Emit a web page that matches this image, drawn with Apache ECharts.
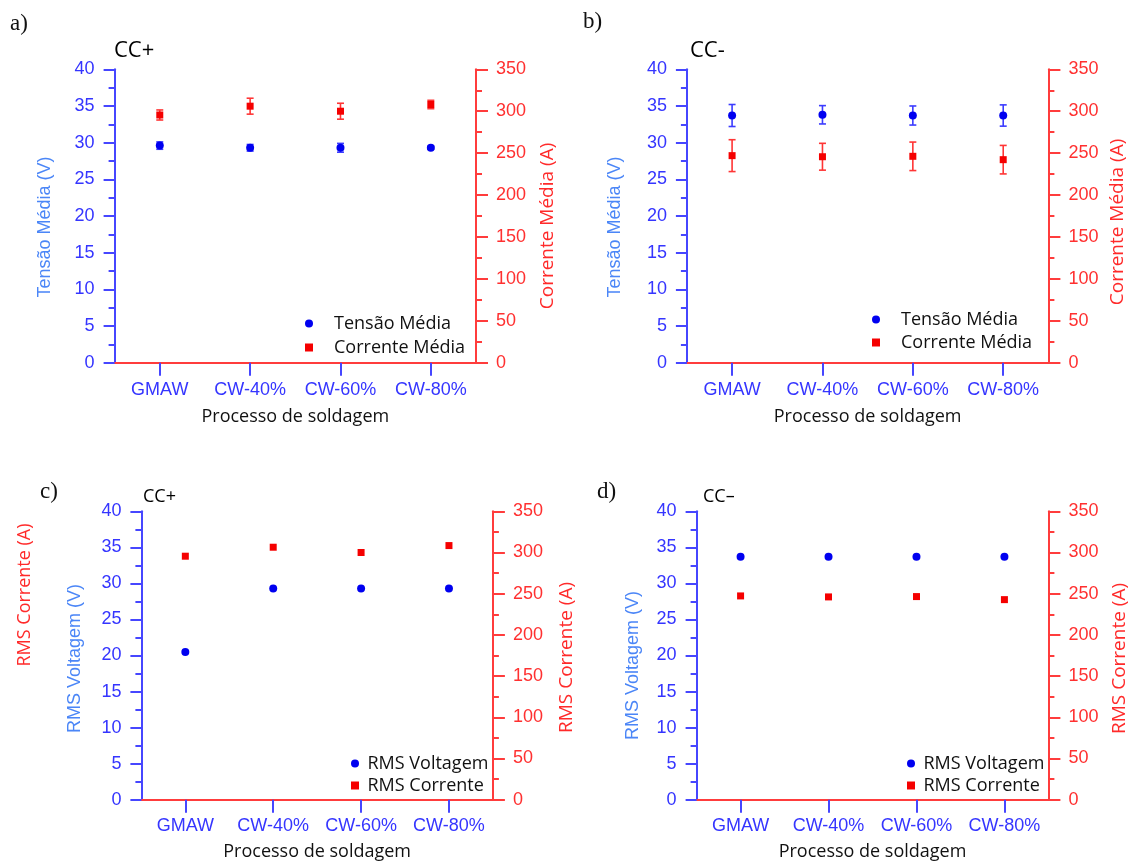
<!DOCTYPE html>
<html>
<head>
<meta charset="utf-8">
<script src="https://cdn.jsdelivr.net/npm/echarts@6/dist/echarts.min.js"></script>
<style>html,body{margin:0;padding:0;background:#fff}#chart{width:1134px;height:863px}</style>
</head>
<body>
<div id="chart"></div>
<script>
// ---------- data ----------
var categories = ['GMAW', 'CW-40%', 'CW-60%', 'CW-80%'];
var leftTicks = [0, 40, 5];      // min, max, interval (V)
var rightTicks = [0, 350, 50];   // min, max, interval (A)

// a) CC+  mean values
var aVolt = [29.6, 29.3, 29.3, 29.3];
var aVoltErr = [0.5, 0.45, 0.6, 0.2];
var aCurr = [295.5, 306, 300, 308];
var aCurrErr = [6, 9.5, 9.5, 5];
// b) CC-  mean values
var bVolt = [33.7, 33.8, 33.7, 33.7];
var bVoltErr = [1.5, 1.25, 1.3, 1.45];
var bCurr = [247, 245.7, 246.2, 242.2];
var bCurrErr = [19, 16, 17, 17];
// c) CC+  RMS values
var cVolt = [20.5, 29.3, 29.3, 29.3];
var cCurr = [295.5, 306.4, 300, 308.4];
// d) CC-  RMS values
var dVolt = [33.7, 33.7, 33.7, 33.7];
var dCurr = [247.3, 246.1, 246.5, 242.8];

// ---------- styles ----------
var BLUE_AX = '#4646ff', BLUE_LBL = '#3535ff', BLUE_NAME = '#4b86f7', BLUE_MK = '#0000f0', BLUE_ERR = '#3c3cff';
var RED_AX = '#ff3c3c', RED_LBL = '#ff3030', RED_NAME = '#ff2a2a', RED_MK = '#f50000', RED_ERR = '#ff3535';
var SANS = 'Liberation Sans', HUM = 'Open Sans', SERIF = 'Liberation Serif';
var SQUARE = 'path://M0,0L10,0L10,10L0,10Z';

var panels = [
  {grid:{left:114.6, top:69.3, width:361.4, height:293.4}, lName:'Tensão Média (V)', rName:'Corrente Média (A)', lGap:61, rGap:62, xGap:45, lblMargin:18,
   lShift:11, rShift:10,
   volt:aVolt, voltErr:aVoltErr, curr:aCurr, currErr:aCurrErr, vName:'Tensão Média', cName:'Corrente Média',
   legend:{left:305, top:313, itemWidth:40, itemGap:3}, sym:8},
  {grid:{left:686.9, top:69.3, width:361.5, height:293.4}, lName:'Tensão Média (V)', rName:'Corrente Média (A)', lGap:63, rGap:60, xGap:45, lblMargin:18,
   lShift:11, rShift:6,
   volt:bVolt, voltErr:bVoltErr, curr:bCurr, currErr:bCurrErr, vName:'Tensão Média ', cName:'Corrente Média ',
   legend:{left:872, top:309, itemWidth:40, itemGap:2}, sym:8},
  {grid:{left:141.4, top:511.3, width:351.5, height:288.4}, lName:'RMS Voltagem (V)', rName:'RMS Corrente (A)', lGap:57, rGap:64, xGap:43, lblMargin:17,
   lShift:3, rShift:2,
   volt:cVolt, curr:cCurr, vName:'RMS Voltagem', cName:'RMS Corrente',
   legend:{left:351, top:753, itemWidth:15, itemGap:1}, sym:8},
  {grid:{left:696.6, top:511.3, width:351.8, height:288.4}, lName:'RMS Voltagem (V)', rName:'RMS Corrente (A)', lGap:55, rGap:62, xGap:43, lblMargin:17,
   lShift:10, rShift:3,
   volt:dVolt, curr:dCurr, vName:'RMS Voltagem ', cName:'RMS Corrente ',
   legend:{left:907, top:753, itemWidth:15, itemGap:1}, sym:8}
];

function errData(vals, errs) {
  return vals.map(function (v, i) { return [i, v - errs[i], v + errs[i]]; });
}
function errRender(color) {
  return function (params, api) {
    var x = api.value(0);
    var lo = api.coord([x, api.value(1)]);
    var hi = api.coord([x, api.value(2)]);
    var hw = 3.5;
    var st = {stroke: color, lineWidth: 1.6};
    return {type: 'group', children: [
      {type: 'line', shape: {x1: lo[0], y1: lo[1], x2: hi[0], y2: hi[1]}, style: st},
      {type: 'line', shape: {x1: lo[0] - hw, y1: lo[1], x2: lo[0] + hw, y2: lo[1]}, style: st},
      {type: 'line', shape: {x1: hi[0] - hw, y1: hi[1], x2: hi[0] + hw, y2: hi[1]}, style: st}
    ]};
  };
}

var option = {
  animation: false,
  backgroundColor: '#ffffff',
  title: [
    {text: 'a)', left: 10, top: 12, padding: 0, textStyle: {fontFamily: SERIF, fontSize: 23, fontWeight: 'normal', color: '#111'}},
    {text: 'b)', left: 583, top: 10, padding: 0, textStyle: {fontFamily: SERIF, fontSize: 23, fontWeight: 'normal', color: '#111'}},
    {text: 'c)', left: 40, top: 480, padding: 0, textStyle: {fontFamily: SERIF, fontSize: 23, fontWeight: 'normal', color: '#111'}},
    {text: 'd)', left: 597, top: 480, padding: 0, textStyle: {fontFamily: SERIF, fontSize: 23, fontWeight: 'normal', color: '#111'}},
    {text: 'CC+', left: 114, top: 40, padding: 0, textStyle: {fontFamily: HUM, fontSize: 22, fontWeight: 'normal', color: '#000'}},
    {text: 'CC-', left: 690, top: 40, padding: 0, textStyle: {fontFamily: HUM, fontSize: 22, fontWeight: 'normal', color: '#000'}},
    {text: 'CC+', left: 143, top: 488, padding: 0, textStyle: {fontFamily: HUM, fontSize: 18, fontWeight: 'normal', color: '#000'}},
    {text: 'CC\u2013', left: 703, top: 488, padding: 0, textStyle: {fontFamily: HUM, fontSize: 18, fontWeight: 'normal', color: '#000'}}
  ],
  graphic: [
    {type: 'text', x: 25, y: 595, rotation: Math.PI / 2,
     style: {text: 'RMS Corrente (A)', fill: RED_NAME, font: '18px "Open Sans"', align: 'center', verticalAlign: 'middle'}}
  ],
  grid: [], xAxis: [], yAxis: [], series: [], legend: []
};

panels.forEach(function (p, gi) {
  var g = Object.assign({}, p.grid);
  g.containLabel = false;
  g.outerBoundsMode = 'none';
  option.grid.push(g);
  // bottom category axis
  option.xAxis.push({
    type: 'category', gridIndex: gi, data: categories, position: 'bottom', boundaryGap: true,
    axisLine: {show: true, lineStyle: {color: BLUE_AX, width: 2}},
    axisTick: {show: true, alignWithLabel: true, length: 13, lineStyle: {color: BLUE_AX, width: 2}},
    axisLabel: {color: BLUE_LBL, fontFamily: SANS, fontSize: 18, margin: p.lblMargin, interval: 0},
    splitLine: {show: false},
    name: 'Processo de soldagem', nameLocation: 'middle', nameGap: p.xGap,
    nameTextStyle: {color: '#111', fontFamily: HUM, fontSize: 18}
  });
  // top frame line (red)
  option.xAxis.push({
    type: 'category', gridIndex: gi, data: categories, position: 'top', boundaryGap: true,
    axisLine: {show: true, lineStyle: {color: RED_AX, width: 2}},
    axisTick: {show: false}, axisLabel: {show: false}, splitLine: {show: false}
  });
  // left voltage axis
  option.yAxis.push({
    type: 'value', gridIndex: gi, position: 'left', min: leftTicks[0], max: leftTicks[1], interval: leftTicks[2],
    axisLine: {show: true, lineStyle: {color: BLUE_AX, width: 2}},
    axisTick: {show: true, length: 11, lineStyle: {color: BLUE_AX, width: 2}},
    minorTick: {show: true, splitNumber: 2, length: 6, lineStyle: {color: BLUE_AX, width: 2}},
    axisLabel: {color: BLUE_LBL, fontFamily: SANS, fontSize: 18, margin: 20},
    splitLine: {show: false},
    name: p.lName, nameLocation: 'middle', nameGap: p.lGap,
    nameTextStyle: {color: BLUE_NAME, fontFamily: SANS, fontSize: 18, padding: [0, p.lShift * 2, 0, 0]}
  });
  // right current axis
  option.yAxis.push({
    type: 'value', gridIndex: gi, position: 'right', min: rightTicks[0], max: rightTicks[1], interval: rightTicks[2],
    axisLine: {show: true, lineStyle: {color: RED_AX, width: 2}},
    axisTick: {show: true, length: 12, lineStyle: {color: RED_AX, width: 2}},
    minorTick: {show: true, splitNumber: 2, length: 6, lineStyle: {color: RED_AX, width: 2}},
    axisLabel: {color: RED_LBL, fontFamily: SANS, fontSize: 18, margin: 20},
    splitLine: {show: false},
    name: p.rName, nameLocation: 'middle', nameGap: p.rGap, nameRotate: 90,
    nameTextStyle: {color: RED_NAME, fontFamily: HUM, fontSize: 19, padding: [0, p.rShift * 2, 0, 0]}
  });
  var xb = gi * 2, yl = gi * 2, yr = gi * 2 + 1;
  if (p.voltErr) {
    option.series.push({type: 'custom', xAxisIndex: xb, yAxisIndex: yl, renderItem: errRender(BLUE_ERR),
      data: errData(p.volt, p.voltErr), encode: {x: 0, y: [1, 2]}, z: 2, silent: true});
    option.series.push({type: 'custom', xAxisIndex: xb, yAxisIndex: yr, renderItem: errRender(RED_ERR),
      data: errData(p.curr, p.currErr), encode: {x: 0, y: [1, 2]}, z: 2, silent: true});
  }
  option.series.push({type: 'scatter', name: p.vName, xAxisIndex: xb, yAxisIndex: yl, data: p.volt,
    symbol: 'circle', symbolSize: p.sym, itemStyle: {color: BLUE_MK, opacity: 1}, z: 3});
  option.series.push({type: 'scatter', name: p.cName, xAxisIndex: xb, yAxisIndex: yr, data: p.curr,
    symbol: SQUARE, symbolSize: p.sym - 1, itemStyle: {color: RED_MK, opacity: 1}, z: 3});
  option.legend.push({
    orient: 'vertical', left: p.legend.left, top: p.legend.top, padding: 0,
    itemWidth: p.legend.itemWidth, itemHeight: 8, itemGap: p.legend.itemGap, symbolKeepAspect: true,
    itemStyle: {opacity: 1},
    data: [{name: p.vName, icon: 'circle'}, {name: p.cName, icon: SQUARE}], selectedMode: false,
    textStyle: {fontFamily: HUM, fontSize: 18, color: '#111', lineHeight: 21}
  });
});

var chart = echarts.init(document.getElementById('chart'), null, {renderer: 'canvas'});
chart.setOption(option);
</script>
</body>
</html>
